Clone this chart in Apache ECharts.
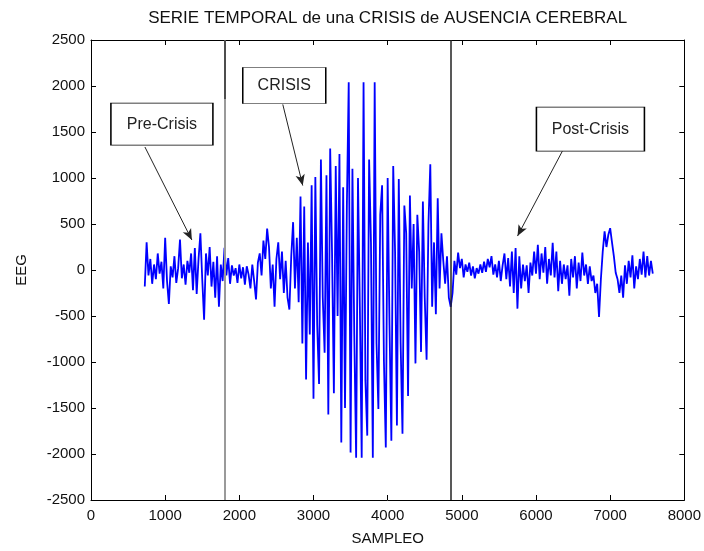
<!DOCTYPE html>
<html>
<head>
<meta charset="utf-8">
<script src="https://cdn.jsdelivr.net/npm/echarts@6/dist/echarts.min.js"></script>
<style>
  html, body { margin: 0; padding: 0; background: #fff; }
  #chart { width: 704px; height: 551px; }
</style>
</head>
<body>
<div id="chart"></div>
<script>
// sampling grid of the recording
const startSample = 725;
const sampleStep = 25;

// EEG amplitude, split by phase
const preCrisis = [-180, 300, -60, 120, -150, 60, -100, 180, -40, 90, -200, 350, -120, -370, 40, -80, 150, -140, 20, 330,
  -90, 60, -160, 100, -30, 180, -220, 240, -260, 120, 400, -100, -540, 180, -60, 250, -180, 90, -300, 150, -400, 60, -120];
const transition = [240, -60, 130, -150, 50, -60, 20, -140, 60, -90, 30, -160, 40, -50, -200, 60, -120, -320, 80, 180,
  -60, 320, 120, 450, 250, -200, 60, -400, 120, 300, -100, 200, -250, 100, -300, -430, 150, 520, -200, 350, -350];
const crisis = [800, -800, 690, -1190, 300, -700, 920, -1400, 1010, -600, -1240, 1200, -300, -900, 1030, -1570, 1320, 200,
  -1340, 1130, -500, 1260, -1875, 900, -1500, 700, 2040, -1985, 1100, -700, -2040, 1000, -400, -2040, 2040, -1200, -1800,
  1200, 300, -2040, 2040, -800, -1510, 600, 920, -1000, -1930, 1000, -600, -1855, 1130, 200, -1690, 990, -800, -1780, 700,
  400, -1370, 810, -200, 500, -1015, 600, 200, -890, 745, -300, -975, 500, 1150, -400, 300, -480, 780, -200, 400, 100,
  -150, 150, -300, -400];
const postCrisis = [-250, 100, -50, 190, 20, 120, -80, 60, -20, 80, -60, 40, -90, 20, -40, 60, -30, 90, -20, 120,
  30, 150, -50, 60, -80, 100, -120, 50, 180, -100, 130, -180, 200, -250, 240, -420, 150, -200, 60, -120,
  50, -250, 80, -60, 200, -40, 275, -100, 180, -30, 250, -150, 120, -60, 295, -80, 200, -230, 100, -150,
  60, -100, 50, -280, 120, -80, 150, -200, 80, -120, 190, -60, 60, -150, 40, -120, -60, -250, -150, -510,
  -100, 200, 420, 250, 380, 455, 300, 150, -30, -100, -250, -60, -300, 50, -150, 100, -80, 160, -200, 40,
  -100, 120, -50, 200, -80, 150, -60, 100, -40];

// phase boundaries (sample index)
const crisisStart = 1800;
const crisisEnd = 4850;

// annotation boxes and arrows, in data coordinates
const boxLabels = ['Pre-Crisis', 'CRISIS', 'Post-Crisis'];
const boxCenters = [[956, 1585], [2606, 2005], [6734, 1531]];
const boxSizes = [[102, 42], [83, 36], [108, 44]];
const arrowFrom = [[727, 1337], [2586, 1800], [6357, 1294]];
const arrowTo = [[1360, 326], [2855, 918], [5751, 369]];

const xTicks = { min: 0, max: 8000, interval: 1000 };
const yTicks = { min: -2500, max: 2500, interval: 500 };

const FONT = "'Liberation Sans', Arial, sans-serif";

const eeg = [...preCrisis, ...transition, ...crisis, ...postCrisis];
const eegPoints = eeg.map((v, i) => [startSample + i * sampleStep, v]);

const axisCommon = {
  type: 'value',
  splitLine: { show: false },
  axisLine: { show: true, onZero: false, lineStyle: { color: '#000', width: 1 } },
  axisTick: { show: true, inside: true, length: 5, lineStyle: { color: '#000' } },
};

const chart = echarts.init(document.getElementById('chart'));
chart.setOption({
  animation: false,
  textStyle: { fontFamily: FONT },
  grid: { left: 91, right: 19, top: 40, bottom: 46, containLabel: false },
  xAxis: [
    {
      ...axisCommon,
      ...xTicks,
      position: 'bottom',
      name: 'SAMPLEO',
      nameLocation: 'middle',
      nameGap: 31,
      nameTextStyle: { color: '#111', fontSize: 15, fontFamily: FONT },
      axisLabel: { color: '#111', fontSize: 15, margin: 8, fontFamily: FONT, formatter: (v) => String(v) },
    },
    {
      ...axisCommon,
      ...xTicks,
      position: 'top',
      name: 'SERIE TEMPORAL de una CRISIS de AUSENCIA CEREBRAL',
      nameLocation: 'middle',
      nameGap: 13,
      nameTextStyle: { color: '#111', fontSize: 17, fontFamily: FONT },
      axisLabel: { show: false },
    },
  ],
  yAxis: [
    {
      ...axisCommon,
      ...yTicks,
      position: 'left',
      name: 'EEG',
      nameLocation: 'middle',
      nameGap: 62,
      nameTextStyle: { color: '#111', fontSize: 15, fontFamily: FONT },
      axisLabel: { color: '#111', fontSize: 15, margin: 6, fontFamily: FONT, formatter: (v) => String(v) },
    },
    {
      ...axisCommon,
      ...yTicks,
      position: 'right',
      axisLabel: { show: false },
    },
  ],
  series: [
    {
      name: 'EEG',
      type: 'line',
      data: eegPoints,
      showSymbol: false,
      sampling: 'none',
      z: 2,
      lineStyle: { color: '#0000ff', width: 1.8, join: 'miter', miterLimit: 2 },
    },
    {
      name: 'marks',
      type: 'line',
      data: [],
      z: 3,
      markLine: {
        silent: true,
        symbol: 'none',
        label: { show: false },
        animation: false,
        data: [
          { xAxis: crisisStart, lineStyle: { color: '#9a9a9a', width: 2, type: 'solid' } },
          [
            { coord: [crisisStart, yTicks.max], lineStyle: { color: '#333', width: 1.5, type: 'solid' } },
            { coord: [crisisStart, 1860] },
          ],
          { xAxis: crisisEnd, lineStyle: { color: '#222', width: 1.5, type: 'solid' } },
          ...arrowFrom.map((from, i) => [
            { coord: from, symbol: 'none', lineStyle: { color: '#222', width: 1, type: 'solid' } },
            { coord: arrowTo[i], symbol: 'arrow', symbolSize: [7, 11] },
          ]),
        ],
      },
      markPoint: {
        silent: true,
        animation: false,
        data: boxLabels.map((label, i) => ({
          coord: boxCenters[i],
          value: label,
          symbol: 'rect',
          symbolSize: boxSizes[i],
          itemStyle: { color: '#fff', borderColor: '#000', borderWidth: 1 },
          label: {
            show: true,
            position: 'inside',
            formatter: label,
            color: '#222',
            fontSize: 16,
            fontFamily: FONT,
          },
        })),
      },
    },
  ],
});
</script>
</body>
</html>
